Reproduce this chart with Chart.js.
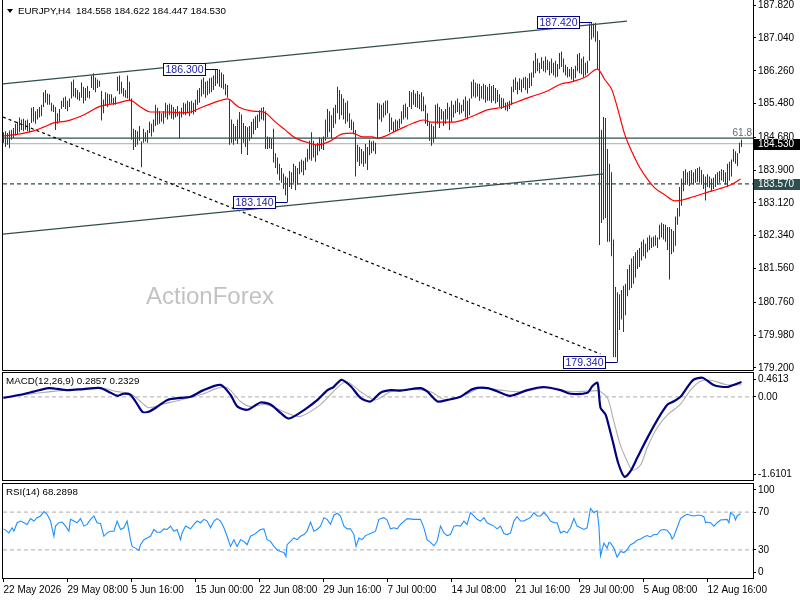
<!DOCTYPE html>
<html><head><meta charset="utf-8">
<script src="https://cdn.jsdelivr.net/npm/chart.js@4.4.1/dist/chart.umd.min.js"></script>
<style>
html,body{margin:0;padding:0;background:#fff;}
body{width:800px;height:600px;position:relative;overflow:hidden;}
canvas{position:absolute;left:0;display:block;}
</style></head><body>
<canvas id="cMain" width="800" height="371" style="top:0px"></canvas>
<canvas id="cMacd" width="800" height="111" style="top:371px"></canvas>
<canvas id="cRsi" width="800" height="118" style="top:482px"></canvas>
<script>
// ---------- DATA ----------
const symbol = 'EURJPY,H4';
const ohlcLast = [184.558, 184.622, 184.447, 184.530];
const xTickIdx = [0,32,64,96,128,160,192,224,256,288,320,352];
const xTickLabels = ['22 May 2026','29 May 08:00','5 Jun 16:00','15 Jun 00:00','22 Jun 08:00','29 Jun 16:00','7 Jul 00:00','14 Jul 08:00','21 Jul 16:00','29 Jul 00:00','5 Aug 08:00','12 Aug 16:00'];
const priceTicks = [187.82,187.04,186.26,185.48,184.68,183.90,183.12,182.34,181.56,180.76,179.98,179.20];
const priceMin = 179.15, priceMax = 187.87;

const highs = [
184.80,184.82,184.78,184.84,184.86,184.90,185.00,185.05,185.15,185.10,
185.12,185.08,185.10,185.02,185.38,185.40,185.30,185.35,185.40,185.45,
185.75,185.80,185.72,185.70,185.50,185.45,185.40,185.25,185.35,185.55,
185.62,185.65,185.55,185.60,186.00,186.05,185.85,185.80,185.75,185.98,
185.88,185.85,185.90,185.78,186.15,186.20,186.10,186.05,186.02,185.78,
185.58,185.75,185.72,185.70,185.70,185.62,185.65,186.12,186.15,186.00,
185.85,185.80,186.15,186.00,185.60,184.88,184.85,184.82,184.95,184.58,
184.88,184.80,184.85,185.05,185.00,185.10,185.45,185.38,185.30,185.25,
185.30,185.50,185.45,185.48,185.45,185.40,185.35,185.42,185.30,185.38,
185.50,185.48,185.55,185.52,185.55,185.50,185.58,185.80,185.85,186.05,
186.10,186.00,186.02,186.08,186.10,186.15,186.28,186.30,186.29,186.22,
186.18,185.95,185.92,185.56,185.10,185.00,184.95,185.10,185.28,185.22,
185.02,184.95,184.92,184.95,185.05,185.12,185.18,185.22,185.32,185.38,
185.40,185.30,184.70,184.68,184.65,184.88,184.30,184.20,184.05,183.95,
183.82,183.75,183.72,183.88,183.85,184.05,184.00,183.95,184.10,184.15,
184.12,184.20,184.40,184.60,184.80,184.60,184.50,184.55,184.68,184.65,
184.70,185.10,185.35,185.30,185.20,185.38,185.45,185.88,185.80,185.70,
185.60,185.50,185.55,185.25,185.10,185.05,184.85,184.50,184.45,184.40,
184.35,184.52,184.45,184.62,184.58,184.60,184.55,185.50,185.48,185.45,
185.50,185.55,185.56,185.25,185.15,185.05,185.10,185.08,185.12,185.30,
185.45,185.48,185.40,185.78,185.75,185.80,185.72,185.78,185.70,185.75,
185.65,185.45,185.25,185.05,185.00,184.95,185.45,185.48,185.40,185.35,
185.30,185.35,185.50,185.40,185.55,185.45,185.55,185.60,185.50,185.45,
185.58,185.65,185.55,185.60,186.00,186.05,185.98,185.95,185.95,185.90,
185.95,185.92,185.88,185.95,185.90,185.92,185.85,185.80,185.70,185.62,
185.60,185.50,185.52,185.55,185.88,186.05,186.10,186.00,186.08,186.05,
186.10,186.12,186.08,186.20,186.22,186.50,186.68,186.55,186.45,186.58,
186.50,186.60,186.52,186.48,186.55,186.45,186.50,186.42,186.68,186.72,
186.55,186.40,186.35,186.30,186.35,186.30,186.38,186.65,186.68,186.55,
186.60,186.45,186.50,187.38,187.42,187.38,187.40,187.20,186.99,184.85,
185.16,185.14,184.40,184.05,183.85,182.25,181.12,181.00,180.95,181.05,
181.15,181.20,181.55,181.65,181.80,181.85,181.95,182.00,182.05,182.20,
182.25,182.15,182.30,182.35,182.30,182.32,182.35,182.30,182.60,182.65,
182.62,182.60,182.55,182.55,182.50,182.45,182.80,183.00,183.50,183.70,
183.88,183.92,183.85,183.88,183.90,183.85,183.92,183.95,183.98,183.90,
183.80,183.75,183.80,183.75,183.70,183.72,183.80,183.85,183.88,183.92,
183.90,183.85,184.05,184.10,184.15,184.40,184.35,184.30,184.55,184.622
];
const lows = [
184.55,184.45,184.50,184.42,184.62,184.66,184.72,184.76,184.80,184.85,
184.82,184.86,184.82,184.80,185.02,185.05,185.00,185.10,185.15,185.18,
185.40,185.50,185.45,185.45,185.30,185.28,184.85,185.00,185.05,185.35,
185.40,185.35,185.30,185.40,185.60,185.65,185.62,185.58,185.55,185.62,
185.48,185.55,185.62,185.60,185.85,185.80,185.75,185.85,185.88,185.08,
185.25,185.42,185.40,185.45,185.48,185.45,185.45,185.78,185.70,185.72,
185.65,185.62,185.60,185.55,184.62,184.38,184.45,184.50,184.60,183.97,
184.55,184.58,184.55,184.78,184.70,184.80,184.95,184.98,185.00,185.05,
185.00,185.15,185.10,185.20,185.12,185.10,185.15,185.18,184.65,185.15,
185.22,185.20,185.25,185.18,185.25,185.22,185.28,185.45,185.50,185.65,
185.70,185.62,185.68,185.72,185.75,185.80,185.90,185.95,185.88,185.85,
185.82,185.68,185.62,184.50,184.55,184.50,184.60,184.52,184.65,184.28,
184.55,184.45,184.26,184.60,184.65,184.75,184.85,184.90,185.05,185.10,
185.08,184.40,184.40,184.42,184.40,184.08,183.95,183.80,183.65,183.60,
183.45,183.30,183.14,183.50,183.45,183.60,183.42,183.55,183.80,183.85,
183.78,183.90,184.10,184.15,184.12,184.20,184.10,184.25,184.35,184.40,
184.38,184.60,184.68,184.80,184.65,184.90,185.00,185.25,185.10,185.20,
185.10,185.00,185.05,184.90,184.85,184.75,183.75,184.10,184.00,184.05,
183.98,184.05,183.90,184.25,184.30,184.35,184.28,184.65,185.10,185.05,
185.15,185.20,185.25,184.80,184.85,184.80,184.82,184.85,184.90,185.00,
185.10,185.15,185.10,185.40,185.35,185.45,185.40,185.38,185.35,185.30,
185.30,185.00,184.95,184.60,184.48,184.55,184.65,185.00,184.90,185.10,
184.95,185.00,185.10,184.85,185.05,185.15,185.25,185.28,185.22,185.25,
185.30,185.15,185.10,185.20,185.60,185.65,185.62,185.65,185.55,185.60,
185.58,185.50,185.55,185.55,185.50,185.55,185.48,185.52,185.40,185.35,
185.38,185.32,185.30,185.35,185.45,185.75,185.80,185.70,185.80,185.75,
185.85,185.80,185.72,185.85,185.90,186.10,186.20,186.25,186.20,186.30,
186.25,186.22,186.28,186.15,186.20,186.15,186.10,186.12,186.30,186.35,
186.22,186.15,186.10,186.12,186.05,186.00,186.08,186.25,186.20,186.18,
186.10,186.15,186.20,186.50,187.00,187.05,186.95,186.30,182.12,182.64,
182.72,182.76,182.20,182.20,181.85,179.46,179.45,179.34,180.10,180.35,
180.05,180.45,180.90,181.05,181.10,181.20,181.35,181.55,181.60,181.75,
181.85,181.80,181.95,182.00,182.05,182.08,182.10,182.05,182.25,182.30,
182.25,182.20,182.00,181.30,181.90,181.95,182.10,182.60,182.80,183.05,
183.40,183.55,183.55,183.52,183.58,183.55,183.60,183.62,183.60,183.55,
183.45,183.18,183.50,183.48,183.40,183.45,183.50,183.55,183.60,183.65,
183.62,183.55,183.50,183.65,183.75,184.10,184.05,184.00,184.30,184.447
];

// moving average read at sample bars [barIndex, value]
const maPts = [[0,184.71],[8.5,184.76],[15,184.83],[20,184.92],[25,185.02],[32,185.07],[40,185.21],[48.5,185.42],[57,185.49],[63,185.56],[68.5,185.40],[73.5,185.28],[82,185.28],[88.5,185.26],[93.5,185.28],[99.5,185.40],[107.5,185.54],[112,185.59],[117.5,185.40],[124.5,185.30],[130,185.28],[136,185.04],[141,184.85],[146,184.66],[151,184.57],[157,184.50],[162.5,184.57],[169.5,184.76],[174.5,184.78],[179.5,184.69],[184.5,184.69],[187,184.66],[197,184.85],[205,185.02],[210,185.09],[213.5,185.04],[225,185.04],[233.5,185.16],[242,185.33],[250,185.40],[255,185.49],[263.5,185.64],[272,185.78],[278.5,185.94],[283.5,185.99],[291,186.11],[297,186.30],[300.75,186.04],[304.25,185.80],[307.25,185.33],[310.75,184.73],[314.25,184.33],[318.25,183.95],[322.25,183.67],[325.75,183.47],[330.75,183.31],[335.75,183.17],[339.5,183.19],[344.5,183.26],[351,183.36],[357.5,183.45],[364.5,183.57],[368.5,183.69]];

// drawn objects on price panel [barIndex, price]
const channelUpper = [[-0.25,185.95],[311.75,187.44]];
const channelLower = [[-0.25,182.38],[300.25,183.81]];
const trendDiag = [[-0.25,185.16],[298.5,179.53]];
const fibLevel = 184.66, fibLabel = '61.8';
const supportLevel = 183.57;
const lastPrice = 184.530;
const calloutIdx = [107, 294, 142, 307];
const calloutPrice = [186.300, 187.420, 183.140, 179.340];

// MACD panel
const macdLast = 0.2857, signalLast = 0.2329;
const macdMin = -1.6101, macdMax = 0.4613;
const macdTicks = [0.4613, 0, -1.6101];
const macdTickLabels = ['0.4613','0.00','-1.6101'];
const macdPts = [[0,-0.02],[8.5,0.04],[15,0.10],[22.5,0.17],[32,0.13],[40,0.15],[48.5,0.17],[53.5,0.08],[57,0.02],[60,0.06],[63.5,0.04],[67,-0.15],[69.5,-0.29],[72.5,-0.29],[77,-0.19],[82,-0.06],[88.5,-0.02],[93.5,0.00],[100,0.13],[108.5,0.23],[113.5,0.04],[117,-0.19],[122,-0.25],[128.5,-0.11],[133.5,-0.15],[138.5,-0.31],[142.5,-0.42],[147,-0.34],[152,-0.21],[157,-0.06],[162,0.13],[165,0.19],[169,0.33],[173.5,0.21],[178.5,-0.02],[183.5,-0.09],[188.5,0.08],[193.5,0.13],[198.5,0.12],[208.5,0.17],[212,0.10],[217,-0.09],[222,-0.06],[228.5,0.00],[234.5,0.15],[242,0.17],[248.5,0.08],[253.5,0.02],[262,0.13],[270,0.19],[278.5,0.13],[283.5,0.06],[292,0.08],[294.5,0.21],[297,0.27],[298.5,-0.21],[301,-0.34],[302.5,-0.54],[305,-0.92],[307.5,-1.30],[310.5,-1.55],[313.5,-1.44],[317,-1.17],[322,-0.79],[327,-0.44],[332,-0.15],[335,-0.09],[338.5,0.00],[342,0.19],[345,0.33],[349.5,0.37],[355,0.23],[362,0.19],[365,0.23],[369,0.2857]];
const signalPts = [[0,-0.02],[18.5,0.08],[32,0.13],[48.5,0.17],[57,0.10],[63.5,0.06],[68.5,-0.09],[72.5,-0.21],[78.5,-0.15],[88.5,-0.06],[98.5,0.04],[111,0.19],[118.5,-0.09],[123.5,-0.19],[131,-0.15],[143.5,-0.34],[148.5,-0.38],[158.5,-0.15],[171,0.29],[178.5,0.10],[186,-0.06],[193.5,0.10],[203.5,0.15],[213.5,0.10],[221,-0.06],[231,0.04],[238.5,0.17],[248.5,0.13],[258.5,0.10],[271,0.17],[283.5,0.10],[297,0.12],[298.5,0.10],[302,-0.02],[305,-0.45],[308.5,-0.94],[312,-1.26],[314.5,-1.42],[318.5,-1.32],[322,-0.97],[327,-0.59],[332,-0.35],[338.5,-0.14],[343.5,0.13],[348.5,0.30],[353.5,0.32],[362,0.23],[369,0.2329]];
const macdLevels = [0];

// RSI panel
const rsiLast = 68.2898;
const rsiTicks = [100, 70, 30, 0];
const rsiTickLabels = ['100','70','30','0'];
const rsiLevels = [70, 30];
const rsiPts = [[0,52.3],[1,50.9],[2.7,48.0],[4.3,53.4],[5.2,49.8],[6.8,58.8],[8.5,60.6],[10.2,58.8],[11.8,57.0],[13.5,63.2],[15.2,60.6],[16.8,64.2],[18.5,66.0],[20.2,70.7],[21.8,67.8],[23.5,60.6],[25.2,44.4],[26,55.2],[27.7,58.8],[29.3,59.5],[31,55.2],[32.7,49.8],[33.5,62.4],[35.2,60.6],[36.8,58.8],[38.5,63.2],[40.2,55.2],[41.8,57.0],[43.5,62.4],[45.2,66.0],[46.8,58.8],[48.5,58.1],[50.2,44.4],[51.8,48.0],[53.5,49.8],[55.2,49.8],[56.8,60.6],[58.5,51.6],[60.2,53.4],[61.8,60.6],[63.5,40.8],[64.3,33.6],[66,31.8],[67.7,29.3],[68.5,35.4],[70.2,40.8],[71.8,42.6],[73.5,44.4],[75.2,51.6],[76.8,48.7],[78.5,48.7],[80.2,52.3],[81.8,51.6],[83.5,55.2],[85.2,49.8],[86.8,51.6],[88.5,40.8],[89.3,48.0],[91,55.2],[93.5,52.3],[95.2,57.0],[96.8,60.6],[98.5,58.8],[100.2,62.4],[101.8,60.6],[103.5,53.4],[105.2,60.6],[106.8,63.2],[108.5,60.6],[110.2,53.4],[111.8,44.4],[113.5,33.6],[115.2,40.8],[116.8,33.6],[118.5,40.8],[120.2,39.0],[121.8,35.4],[123.5,44.4],[125.2,46.2],[126.8,48.7],[128.5,51.6],[130.2,52.3],[131.8,40.8],[133.5,39.0],[135.2,33.6],[136.8,30.0],[138.5,28.2],[140.2,27.1],[141.2,22.8],[141.8,35.4],[143.5,39.0],[145.2,42.6],[146.8,40.8],[148.5,44.4],[150.2,46.2],[151.8,49.8],[153.5,59.5],[155.2,49.8],[156.8,51.6],[158.5,55.2],[160.2,64.2],[161.8,62.4],[163.5,57.0],[165.2,66.8],[166.8,68.9],[168.5,66.0],[170.2,55.2],[171.8,52.3],[173.5,52.3],[175.2,46.2],[176.3,33.6],[177.7,42.6],[179.3,40.8],[181,45.1],[183.5,47.3],[186,49.8],[187.7,62.4],[190.2,64.2],[191.8,61.7],[193.5,52.3],[195.2,53.4],[196.8,52.3],[198.5,57.0],[201.8,63.2],[205.2,62.4],[208.5,62.4],[210.2,53.4],[211.8,40.8],[213.5,37.9],[215.2,34.3],[216.8,39.0],[218.5,55.2],[220.2,48.0],[221.8,45.1],[223.5,46.2],[225.2,55.2],[226.8,55.9],[228.5,55.2],[230.2,60.6],[231.8,57.0],[233.5,69.6],[235.2,66.0],[236.8,62.4],[238.5,60.6],[240.2,64.2],[241.8,58.8],[243.5,57.0],[245.2,55.2],[246.8,52.3],[248.5,55.2],[250.2,47.3],[251.8,46.2],[253.5,48.0],[255.2,60.6],[256.8,65.3],[258.5,60.6],[260.2,60.6],[261.8,62.4],[263.5,64.2],[265.2,69.6],[266.8,66.0],[268.5,66.0],[270.2,69.6],[271.8,66.0],[273.5,60.6],[275.2,58.8],[276.8,58.8],[278.5,48.0],[280.2,49.8],[281.8,48.0],[283.5,53.4],[285.2,63.2],[286.8,55.2],[288.5,53.4],[290.2,51.6],[291.8,53.4],[293.5,74.0],[295.2,69.6],[296.8,71.4],[297.7,55.2],[298.5,23.5],[300.2,37.2],[301.8,31.8],[302.7,37.9],[303.5,37.2],[305.2,31.8],[306.8,22.1],[308.5,28.2],[310.2,27.1],[311.8,30.0],[313.5,35.4],[315.2,37.2],[316.8,40.1],[318.5,41.5],[320.2,43.7],[321.8,45.1],[323.5,43.7],[325.2,46.2],[326.8,46.2],[328.5,50.9],[330.2,51.6],[331.8,50.9],[333.5,46.2],[334.3,41.5],[335.2,44.4],[336.8,53.4],[338.5,63.2],[340.2,66.0],[341.8,67.8],[343.5,66.8],[345.2,66.0],[346.8,66.8],[348.5,66.8],[350.2,65.3],[351,58.8],[351.8,59.5],[353.5,58.8],[355.2,55.2],[356.8,58.8],[358.5,61.7],[361.8,62.4],[362.7,58.8],[363.5,69.6],[365.2,66.8],[366,61.7],[366.8,66.0],[368.5,68.29]];

// ---------- RENDER ----------
const FONT = '"Liberation Sans", Arial, Helvetica, sans-serif';
Chart.defaults.font.family = FONT;
Chart.defaults.font.size = 10;
Chart.defaults.color = '#000';
const X_MIN = -0.25, X_MAX = 374.75;
const BAR_COLOR = '#123f5b', SLATE = '#2f4f4f';

const toXY = arr => arr.map(p => ({x: p[0], y: p[1]}));
const hline = v => [{x: X_MIN, y: v}, {x: X_MAX, y: v}];
const lineDs = (data, color, width, order, extra) => Object.assign({type:'line', data, borderColor: color, borderWidth: width, pointRadius: 0, fill: false, order}, extra || {});
const xHidden = {type:'linear', min:X_MIN, max:X_MAX, display:false, offset:false, bounds:'data', grid:{offset:false}};

function yRight(min, max, values, labels, insetPx) {
  return {
    type:'linear', position:'right', min, max, bounds:'data',
    grid:{display:true, drawOnChartArea:false, drawTicks:true, tickLength:3, color:'#000', tickColor:'#000'},
    border:{display:false},
    ticks:{autoSkip:false, padding:2, color:'#000', font:{size:10}, callback:(v,i)=>labels[i]},
    afterBuildTicks(s){
      const h = (s.bottom - s.top) > 20 ? (s.bottom - s.top) : 100;
      const d = insetPx ? (max - min) * insetPx / h : 0;
      s.ticks = values.map(v => ({value: v >= max ? max - d : (v <= min ? min + d : v)}));
    },
    afterFit(s){ s.width = 47; s.paddingTop = 0; s.paddingBottom = 0; }
  };
}
const baseOpts = {responsive:false, animation:false, events:[], plugins:{legend:{display:false}, tooltip:{enabled:false}}};

const mainDecor = {
  id:'mainDecor',
  beforeDatasetsDraw(chart){
    const ctx = chart.ctx;
    ctx.save();
    ctx.font = '24px ' + FONT;
    ctx.fillStyle = '#c2c2c2';
    ctx.textBaseline = 'alphabetic';
    ctx.textAlign = 'left';
    ctx.fillText('ActionForex', 146, 304);
    ctx.restore();
  },
  afterDraw(chart){
    const {ctx, chartArea:a, scales:{x, y}} = chart;
    ctx.save();
    ctx.strokeStyle = '#000'; ctx.lineWidth = 1;
    ctx.beginPath();
    ctx.moveTo(a.left - 0.5, 0); ctx.lineTo(a.left - 0.5, a.bottom + 0.5);
    ctx.lineTo(a.right + 0.5, a.bottom + 0.5); ctx.lineTo(a.right + 0.5, 0);
    ctx.stroke();
    // callouts
    ctx.font = '10.5px ' + FONT;
    ctx.textBaseline = 'middle';
    for (let k = 0; k < calloutIdx.length; k++) {
      const px = Math.floor(x.getPixelForValue(calloutIdx[k]));
      const cy = Math.round(y.getPixelForValue(calloutPrice[k]));
      const bw = 43, bx = px - 11 - bw;
      ctx.fillStyle = '#fff'; ctx.fillRect(bx, cy - 6, bw, 13);
      ctx.strokeStyle = '#000080';
      ctx.strokeRect(bx + 0.5, cy - 5.5, bw - 1, 12);
      ctx.beginPath(); ctx.moveTo(bx + bw, cy + 0.5); ctx.lineTo(px + 0.5, cy + 0.5); ctx.stroke();
      ctx.fillStyle = '#2323a6'; ctx.textAlign = 'center';
      ctx.fillText(calloutPrice[k].toFixed(3), bx + bw / 2, cy + 1);
    }
    // fib label
    ctx.font = '10px ' + FONT;
    ctx.fillStyle = '#5d6b79'; ctx.textAlign = 'right';
    ctx.fillText(fibLabel, a.right - 1, y.getPixelForValue(fibLevel) - 5);
    // axis price boxes
    const axisBox = (p, bg, fg) => {
      const cy = Math.round(y.getPixelForValue(p));
      ctx.fillStyle = bg; ctx.fillRect(a.right + 1, cy - 5, 47, 11);
      ctx.fillStyle = fg; ctx.textAlign = 'left';
      ctx.fillText(p.toFixed(3), a.right + 5, cy + 0.5);
    };
    axisBox(lastPrice, '#000', '#fff');
    axisBox(supportLevel, SLATE, '#fff');
    // title
    ctx.fillStyle = '#000';
    ctx.beginPath(); ctx.moveTo(7, 9); ctx.lineTo(13, 9); ctx.lineTo(10, 13); ctx.closePath(); ctx.fill();
    ctx.font = '9.8px ' + FONT; ctx.textAlign = 'left';
    ctx.fillText(symbol + '  ' + ohlcLast.map(v => v.toFixed(3)).join(' '), 18, 11);
    ctx.restore();
  }
};

function panelFrame(label){
  return {
    id:'panelFrame',
    afterDraw(chart){
      const {ctx, chartArea:a} = chart;
      ctx.save();
      ctx.strokeStyle = '#000'; ctx.lineWidth = 1;
      ctx.strokeRect(a.left - 0.5, a.top - 0.5, a.right - a.left + 1, a.bottom - a.top + 1);
      ctx.fillStyle = '#000'; ctx.font = '9.8px ' + FONT; ctx.textBaseline = 'middle'; ctx.textAlign = 'left';
      ctx.fillText(label, 6, a.top + 8);
      ctx.restore();
    }
  };
}

// price panel
new Chart(document.getElementById('cMain'), {
  data:{datasets:[
    lineDs(hline(lastPrice), '#bdbdbd', 1.2, 30),
    {type:'bar', data: highs.map((h, i) => ({x: i, y: [lows[i], h]})), backgroundColor: BAR_COLOR, borderWidth: 0, barThickness: 1, inflateAmount: 0, order: 20},
    lineDs(hline(fibLevel), SLATE, 1.4, 8),
    lineDs(hline(supportLevel), SLATE, 1.3, 8, {borderDash:[4,3]}),
    lineDs(toXY(channelUpper), SLATE, 1.3, 7),
    lineDs(toXY(channelLower), SLATE, 1.3, 7),
    lineDs(toXY(trendDiag), '#000', 1.2, 7, {borderDash:[3,3]}),
    lineDs(toXY(maPts), '#ff0000', 1.2, 5, {cubicInterpolationMode:'monotone'})
  ]},
  options: Object.assign({}, baseOpts, {
    layout:{padding:{left:3, top:3, right:0, bottom:1}},
    scales:{x: xHidden, y: yRight(priceMin, priceMax, priceTicks, priceTicks.map(v => v.toFixed(3)), 0)}
  }),
  plugins:[mainDecor]
});

// MACD panel
new Chart(document.getElementById('cMacd'), {
  data:{datasets:[
    ...macdLevels.map(v => lineDs(hline(v), '#bdbdbd', 1.2, 30, {borderDash:[4,3]})),
    lineDs(toXY(signalPts), '#adadad', 1.1, 10, {tension:0.3}),
    lineDs(toXY(macdPts), '#000080', 2.2, 5, {tension:0.25})
  ]},
  options: Object.assign({}, baseOpts, {
    layout:{padding:{left:3, top:2, right:0, bottom:2}},
    scales:{x: xHidden, y: yRight(macdMin, macdMax, macdTicks, macdTickLabels, 6)}
  }),
  plugins:[panelFrame('MACD(12,26,9) ' + macdLast.toFixed(4) + ' ' + signalLast.toFixed(4))]
});

// RSI panel
new Chart(document.getElementById('cRsi'), {
  data:{datasets:[
    ...rsiLevels.map(v => lineDs(hline(v), '#bdbdbd', 1.2, 30, {borderDash:[4,3]})),
    lineDs(toXY(rsiPts), '#1e90ff', 1.1, 5)
  ]},
  options: Object.assign({}, baseOpts, {
    layout:{padding:{left:3, top:2, right:0, bottom:0}},
    scales:{
      x:{type:'linear', min:X_MIN, max:X_MAX, offset:false, bounds:'data', position:'bottom',
        grid:{display:true, drawOnChartArea:false, drawTicks:true, tickLength:4, color:'#000', offset:false},
        border:{display:false},
        ticks:{autoSkip:false, maxRotation:0, minRotation:0, align:'start', padding:2, color:'#000', font:{size:10}, callback:(v,i)=>xTickLabels[i]},
        afterBuildTicks(s){ s.ticks = xTickIdx.map(v => ({value: v})); },
        afterFit(s){ s.height = 22; s.paddingLeft = 0; s.paddingRight = 0; }
      },
      y: yRight(0, 100, rsiTicks, rsiTickLabels, 6)
    }
  }),
  plugins:[panelFrame('RSI(14) ' + rsiLast.toFixed(4))]
});
</script>
</body></html>
